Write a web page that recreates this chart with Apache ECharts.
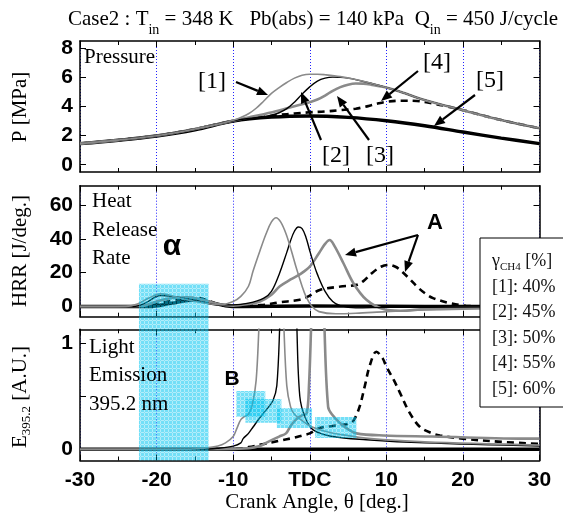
<!DOCTYPE html>
<html><head><meta charset="utf-8">
<script src="https://cdn.jsdelivr.net/npm/echarts@6/dist/echarts.min.js"></script>
<style>html,body{margin:0;padding:0;background:#fff}#c{width:563px;height:513px}</style>
</head><body><div id="c"></div>
<script>
// ---------- data ----------
const angleTicks = [-30, -20, -10, 0, 10, 20, 30];
const angleTickLabels = ['-30', '-20', '-10', 'TDC', '10', '20', '30'];
const pTicks = [0, 2, 4, 6, 8];
const hrrTicks = [0, 20, 40, 60];
const eLabelTicks = [0, 1];
const eTicks = [0, 0.5, 1];
const caseLabels = ['[1]', '[2]', '[3]', '[4]', '[5]'];
const ch4Percent = [40, 45, 50, 55, 60];

// Pressure [MPa] vs crank angle [deg]
const p1 = [[-30,1.45],[-25,1.69],[-20,1.99],[-15,2.45],[-12,2.78],[-10,3.05],[-9,3.25],[-8,3.5],[-7,3.88],[-6,4.38],[-5,4.9],[-4,5.3],[-3,5.65],[-2,5.95],[-1,6.15],[0,6.22],[1,6.22],[2,6.18],[4,6.05],[6,5.85],[8,5.6],[10,5.3],[12,4.98],[15,4.45],[20,3.75],[25,3.07],[30,2.5]];
const p2 = [[-30,1.45],[-25,1.69],[-20,1.99],[-15,2.45],[-10,3.02],[-8,3.18],[-6,3.3],[-5,3.4],[-4,3.57],[-3,3.85],[-2,4.3],[-1,4.85],[0,5.35],[1,5.75],[2,5.95],[3,6.02],[4,6.0],[5,5.95],[6,5.85],[8,5.6],[10,5.3],[12,4.98],[15,4.45],[20,3.75],[25,3.07],[30,2.5]];
const p3 = [[-30,1.45],[-25,1.69],[-20,1.99],[-15,2.45],[-10,3.02],[-8,3.25],[-6,3.47],[-4,3.72],[-2,4.02],[0,4.3],[1,4.48],[2,4.75],[3,5.08],[4,5.33],[5,5.5],[6,5.58],[7,5.57],[8,5.5],[10,5.3],[12,4.98],[15,4.45],[20,3.75],[25,3.07],[30,2.5]];
const p4 = [[-30,1.45],[-25,1.69],[-20,1.99],[-15,2.45],[-10,3.0],[-8,3.17],[-6,3.3],[-4,3.42],[-2,3.52],[0,3.6],[2,3.66],[4,3.75],[6,3.85],[7,3.95],[8,4.08],[9,4.22],[10,4.32],[12,4.4],[14,4.38],[16,4.22],[18,4.0],[20,3.75],[25,3.07],[30,2.5]];
const p5 = [[-30,1.45],[-25,1.68],[-20,1.97],[-15,2.4],[-10,3.0],[-5,3.27],[0,3.35],[5,3.25],[10,3.02],[15,2.68],[20,2.25],[25,1.83],[30,1.45]];

// Heat release rate [J/deg]
const h1 = [[-30,0],[-24,0],[-22.5,1.5],[-21,5],[-19.5,7.5],[-18.5,7],[-17,5],[-15,3],[-13,1.5],[-11.5,1.2],[-10,3],[-9,6],[-8,12],[-7.4,21],[-6.5,33],[-5.7,43],[-5,50],[-4.4,52.5],[-3.8,50],[-3.1,43],[-2.4,33],[-1.8,23.5],[-1,12],[-0.5,6],[0.3,0],[1.2,-3],[3.4,-4.3],[6,-4],[10,-3],[15,-2],[20,-1.5],[30,-1]];
const h2 = [[-30,0],[-23,0],[-21.5,2],[-19.5,6.5],[-18,6],[-16,4.5],[-14,2.5],[-12,1],[-10,1],[-8,2],[-6,5],[-5,9],[-4,19],[-3,32],[-2.5,39],[-2,44.5],[-1.5,47],[-1,46],[-0.5,41],[0,33],[0.5,25.5],[1,19],[2,9],[3,3],[4,0.5],[6,-0.8],[10,-0.5],[20,-0.3],[30,0]];
const h3 = [[-30,0],[-22,0.3],[-20,3],[-18,5],[-16,5.5],[-14,4],[-12,1.5],[-10,0.5],[-8,1.5],[-6.5,3],[-5,7],[-3.9,12],[-2.5,16],[-1.3,19],[0,23.6],[1.2,31.5],[2,37],[2.6,39.3],[3.2,36],[4.4,25.6],[5.7,13.8],[7.4,4],[9.6,-1.5],[11.8,-2.5],[15,-1.5],[20,-0.8],[30,-0.3]];
const h4 = [[-30,0],[-22,0],[-20,1.5],[-18,3.5],[-16,5],[-14.5,5],[-13,3],[-11,0.5],[-8,0.5],[-6,1],[-4,2.5],[-1.3,4],[0,6.5],[1.3,9.8],[4,11.8],[6.1,12.8],[7,15],[8.1,19.7],[9.3,23.5],[10.3,24.6],[11.2,23.5],[11.8,21.6],[13,16.5],[14,11.8],[15,8],[16.1,5],[18.3,2],[20.4,0.5],[25,0],[30,0]];
const h5 = [[-30,0],[-21,0],[-18,2],[-16,3.5],[-14.5,4],[-13,2.5],[-11,0.5],[-9,0],[0,0.3],[10,0.2],[20,0],[30,0]];

// Light emission at 395.2 nm [A.U.]
const e1 = [[-30,0],[-16,0],[-14,0.01],[-12,0.03],[-11,0.06],[-10,0.12],[-9.5,0.2],[-9,0.28],[-8.5,0.31],[-8,0.33],[-7.5,0.42],[-7,0.65],[-6.6,1.2],[-6,2],[-4.5,2.5],[-3.8,2],[-3.4,1.2],[-3,0.6],[-2.5,0.4],[-2,0.33],[-1,0.27],[0,0.22],[2,0.17],[4,0.14],[8,0.1],[15,0.07],[30,0.04]];
const e2 = [[-30,0],[-14,0],[-12,0.01],[-10,0.03],[-9,0.06],[-8.7,0.1],[-8,0.15],[-7.4,0.21],[-6.5,0.3],[-5.7,0.37],[-4.8,0.46],[-4.3,0.6],[-3.9,1.2],[-3.5,2],[-2.5,2.5],[-2,2],[-1.7,1.2],[-1.3,0.5],[-0.6,0.3],[0.5,0.18],[3,0.12],[7.4,0.09],[15,0.06],[30,0.03]];
const e3 = [[-30,0],[-12,0],[-8,0.01],[-6.5,0.03],[-5.7,0.06],[-4,0.12],[-3.1,0.15],[-2.5,0.22],[-1.8,0.28],[-1,0.32],[-0.4,0.34],[-0.1,0.6],[0.2,1.2],[0.6,2],[1.2,2.5],[1.6,2],[1.9,1.2],[2.4,0.4],[3,0.32],[3.9,0.25],[5,0.19],[6.1,0.15],[9.6,0.13],[16,0.12],[29,0.1],[30,0.1]];
const e4 = [[-30,0],[-10,0],[-8,0.02],[-6,0.05],[-4,0.08],[-2,0.11],[-1,0.13],[0,0.15],[1.3,0.2],[3,0.22],[5,0.24],[5.7,0.27],[6.5,0.4],[7.2,0.6],[7.8,0.78],[8.7,0.92],[9.5,0.86],[10,0.78],[11,0.65],[11.8,0.53],[13,0.35],[14.4,0.21],[16,0.15],[17,0.13],[20,0.1],[25,0.07],[30,0.05]];
const e5 = [[-30,0],[30,0]];

// highlighted regions (crank angle range, value range)
const cyanAlpha = {from: -22.3, to: -13.2, hrrTop: 13.4};
const cyanB = [[-9.6,-5.8,0.305,0.55],[-8.4,-3.7,0.25,0.475],[-4.3,0.3,0.2,0.39],[0.7,6.1,0.107,0.305]];

// ---------- chart ----------
const SERIF = '"Liberation Serif","Times New Roman",serif';
const SANS = '"Liberation Sans",Arial,sans-serif';
const GRAY = '#8a8a8a';
const chart = echarts.init(document.getElementById('c'), null, {renderer: 'canvas'});

const gridsPx = [
  {left: 80, right: 23.5, top: 41, height: 131},
  {left: 80, right: 23.5, top: 185.7, height: 131},
  {left: 80, right: 23.5, top: 329.3, height: 131.2}
];
const yRanges = [[-0.5, 8.5], [-6, 71.4], [-0.106, 1.132]];
const yLabelVals = [pTicks, hrrTicks, eLabelTicks];
const yTickVals = [pTicks, hrrTicks, eTicks];

const xAxes = [], yAxes = [];
gridsPx.forEach((g, i) => {
  xAxes.push({
    gridIndex: i, type: 'value', min: -30, max: 30, interval: 10, position: 'bottom',
    axisLine: {onZero: false, lineStyle: {color: '#000', width: 1.5}},
    axisTick: {inside: true, length: 6, lineStyle: {color: '#000', width: 1}},
    minorTick: {show: true, splitNumber: 2, length: 4, lineStyle: {color: '#000', width: 1}},
    axisLabel: {show: i === 2, margin: 9, color: '#000', fontFamily: SANS, fontWeight: 'bold', fontSize: 21,
      formatter: v => angleTickLabels[angleTicks.indexOf(v)]},
    splitLine: {show: true, lineStyle: {color: '#2222ff', type: [1, 2], width: 1}}
  });
  xAxes.push({
    gridIndex: i, type: 'value', min: -30, max: 30, interval: 10, position: 'top',
    axisLine: {onZero: false, lineStyle: {color: '#000', width: 1.5}},
    axisTick: {inside: true, length: 6, lineStyle: {color: '#000'}},
    minorTick: {show: true, splitNumber: 2, length: 4, lineStyle: {color: '#000'}},
    axisLabel: {show: false}, splitLine: {show: false}
  });
  yAxes.push({
    gridIndex: i, type: 'value', min: yRanges[i][0], max: yRanges[i][1], position: 'left',
    axisLine: {show: true, onZero: false, lineStyle: {color: '#000', width: 1.5}},
    axisTick: {show: true, inside: true, length: 6, customValues: yTickVals[i], lineStyle: {color: '#000'}},
    axisLabel: {show: true, customValues: yLabelVals[i], margin: 7, color: '#000', fontFamily: SANS, fontWeight: 'bold', fontSize: 21},
    splitLine: {show: false}
  });
  yAxes.push({
    gridIndex: i, type: 'value', min: yRanges[i][0], max: yRanges[i][1], position: 'right',
    axisLine: {show: true, onZero: false, lineStyle: {color: '#000', width: 1.5}},
    axisTick: {show: true, inside: true, length: 6, customValues: yTickVals[i], lineStyle: {color: '#000'}},
    axisLabel: {show: false}, splitLine: {show: false}
  });
});

const styles = [
  {color: GRAY, width: 1.6},
  {color: '#000', width: 1.4},
  {color: GRAY, width: 2.6},
  {color: '#000', width: 2.6, type: [7, 5]},
  {color: '#000', width: 3.4}
];
const panels = [[p1, p2, p3, p4, p5], [h1, h2, h3, h4, h5], [e1, e2, e3, e4, e5]];
const series = [];
panels.forEach((set, gi) => {
  [4, 3, 2, 1, 0].forEach(k => {
    series.push({
      type: 'line', name: caseLabels[k], xAxisIndex: gi * 2, yAxisIndex: gi * 2,
      data: set[k], symbol: 'none', smooth: 0.35, clip: true, silent: true,
      lineStyle: Object.assign({cap: 'butt'}, styles[k]), z: 3
    });
  });
});

chart.setOption({
  animation: false,
  grid: gridsPx.map(g => Object.assign({show: false, containLabel: false}, g)),
  xAxis: xAxes, yAxis: yAxes, series: series
});

// ---------- annotations ----------
const G = [];
const mctx = document.createElement('canvas').getContext('2d');
function measure(font, t) { mctx.font = font; return mctx.measureText(t).width; }
function txt(x, y, text, opt) {
  G.push({type: 'text', x: x, y: y, z: 30, silent: true, style: Object.assign({
    text: text, fill: '#000', font: '21px ' + SERIF, textAlign: 'left', textVerticalAlign: 'middle'}, opt || {})});
}
// sequence of text pieces (for subscripts); rot = 0 or PI/2
function seq(x, y, segs, align, rot, fill) {
  rot = rot || 0;
  const widths = segs.map(s => measure(s.font, s.t));
  const total = widths.reduce((a, b) => a + b, 0);
  let along = align === 'center' ? -total / 2 : 0;
  segs.forEach((s, i) => {
    const dy = s.dy || 0;
    const px = rot ? x + dy : x + along;
    const py = rot ? y - along : y + dy;
    G.push({type: 'text', x: px, y: py, rotation: rot, z: 30, silent: true,
      style: {text: s.t, font: s.font, fill: fill || '#000', textAlign: 'left', textVerticalAlign: 'middle'}});
    along += widths[i];
  });
}
function arrow(x1, y1, x2, y2) {
  const a = Math.atan2(y2 - y1, x2 - x1), L = 11, W = 4.5;
  const bx = x2 - L * Math.cos(a), by = y2 - L * Math.sin(a);
  G.push({type: 'line', z: 30, silent: true, shape: {x1: x1, y1: y1, x2: bx, y2: by}, style: {stroke: '#000', lineWidth: 2.2}});
  G.push({type: 'polygon', z: 30, silent: true, shape: {points: [[x2, y2],
    [bx + W * Math.sin(a), by - W * Math.cos(a)], [bx - W * Math.sin(a), by + W * Math.cos(a)]]}, style: {fill: '#000'}});
}
const F21 = '21px ' + SERIF, F14 = '14px ' + SERIF;

// title
seq(68, 19, [
  {t: 'Case2 : T', font: F21}, {t: 'in', font: F14, dy: 11},
  {t: ' = 348 K   Pb(abs) = 140 kPa  Q', font: F21}, {t: 'in', font: F14, dy: 11},
  {t: ' = 450 J/cycle', font: F21}
], 'left');
// axis names
seq(20, 107, [{t: 'P [MPa]', font: F21}], 'center', Math.PI / 2);
seq(20, 251, [{t: 'HRR [J/deg.]', font: F21}], 'center', Math.PI / 2);
seq(20, 397, [{t: 'E', font: F21}, {t: '395.2', font: '13px ' + SERIF, dy: 7}, {t: ' [A.U.]', font: F21}], 'center', Math.PI / 2);
txt(317, 502, 'Crank Angle, \u03b8 [deg.]', {textAlign: 'center'});

// in-panel texts
txt(84, 57, 'Pressure');
txt(92, 201, 'Heat'); txt(92, 230, 'Release'); txt(92, 258, 'Rate');
txt(89, 347, 'Light'); txt(89, 375, 'Emission'); txt(89, 404, '395.2 nm');
txt(172, 247, '\u03b1', {font: 'bold 30px ' + SANS, textAlign: 'center'});
txt(435, 223, 'A', {font: 'bold 22px ' + SANS, textAlign: 'center'});
txt(232, 379, 'B', {font: 'bold 21px ' + SANS, textAlign: 'center'});

// case labels + arrows (pressure panel)
const lbl = {font: '24px ' + SERIF, textAlign: 'center'};
txt(212, 82, caseLabels[0], lbl); arrow(236, 82, 268, 95);
txt(336, 156, caseLabels[1], lbl); arrow(321, 140, 301, 92);
txt(380, 156, caseLabels[2], lbl); arrow(369, 140, 337, 96);
txt(437, 63, caseLabels[3], lbl); arrow(418, 71, 381, 101);
txt(490, 81, caseLabels[4], lbl); arrow(475, 95, 434, 126);
// A arrows
arrow(418, 235, 345, 255); arrow(418, 235, 405, 272);

// legend box
G.push({type: 'rect', z: 28, silent: true, shape: {x: 480, y: 238, width: 100, height: 169}, style: {fill: '#fff', stroke: '#000', lineWidth: 1}});
const F18 = '18px ' + SERIF;
seq(492, 261, [{t: '\u03b3', font: F18}, {t: 'CH4', font: '11px ' + SERIF, dy: 6}, {t: ' [%]', font: F18}], 'left', 0, '#111');
ch4Percent.forEach((v, i) => txt(492, 287 + i * 25.5, caseLabels[i] + ': ' + v + '%', {font: F18, fill: '#111'}));

// cyan highlight boxes (textured fill)
const pc = document.createElement('canvas'); pc.width = 4; pc.height = 4;
const pctx = pc.getContext('2d');
pctx.fillStyle = 'rgba(0,196,240,0.55)'; pctx.fillRect(0, 0, 4, 4);
pctx.clearRect(0, 0, 4, 1); pctx.clearRect(0, 0, 1, 4);
pctx.fillStyle = 'rgba(0,196,240,0.3)'; pctx.fillRect(0, 0, 4, 1); pctx.fillRect(0, 0, 1, 4);
const CY = {image: pc, repeat: 'repeat'};
const tl = chart.convertToPixel({gridIndex: 1}, [cyanAlpha.from, cyanAlpha.hrrTop]);
const br = chart.convertToPixel({gridIndex: 2}, [cyanAlpha.to, yRanges[2][0]]);
G.push({type: 'rect', z: 25, silent: true, shape: {x: tl[0], y: tl[1], width: br[0] - tl[0], height: br[1] - tl[1]}, style: {fill: CY}});
cyanB.forEach(b => {
  const a = chart.convertToPixel({gridIndex: 2}, [b[0], b[3]]);
  const c = chart.convertToPixel({gridIndex: 2}, [b[1], b[2]]);
  G.push({type: 'rect', z: 25, silent: true, shape: {x: a[0], y: a[1], width: c[0] - a[0], height: c[1] - a[1]}, style: {fill: CY}});
});

chart.setOption({graphic: G});
</script></body></html>
